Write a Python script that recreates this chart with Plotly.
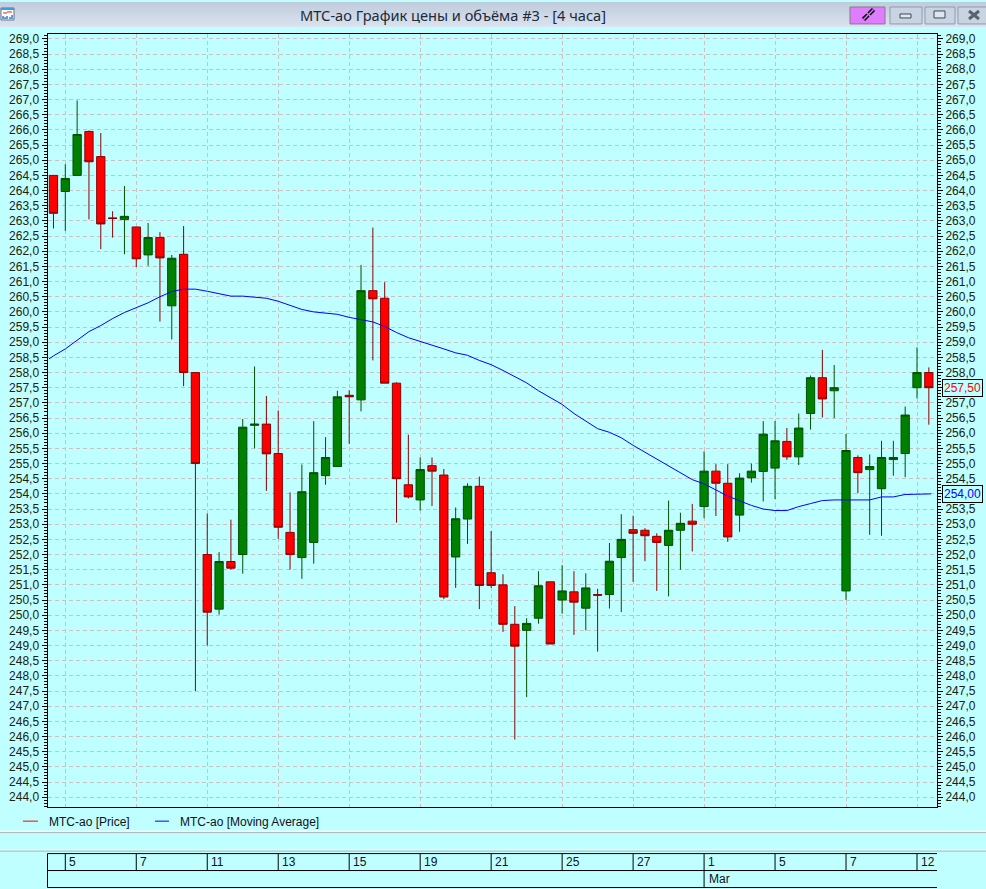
import plotly.graph_objects as go

W, H = 986, 889
BG = "#c0ffff"

bars = list(range(75))
opens = [264.5,263.97,264.5,265.95,265.12,263.1,263.05,262.8,261.88,262.45,260.2,261.9,258.0,252.0,250.2,251.77,252.0,256.26,256.3,255.33,252.73,251.9,252.4,254.6,254.9,257.25,257.1,260.7,260.45,257.65,254.3,253.8,254.93,254.62,251.92,253.17,254.25,251.4,251.0,249.7,249.5,249.9,251.1,250.5,250.77,250.23,250.68,250.68,251.9,252.82,252.8,252.6,252.3,252.8,253.1,253.58,254.75,254.35,253.3,254.53,254.74,254.85,255.73,255.22,256.65,257.83,257.4,250.8,255.2,254.8,254.17,255.13,255.33,257.5,258.0]
closes = [263.25,264.4,265.85,264.95,262.9,263.08,263.15,261.75,262.45,261.78,261.77,258.0,255.0,250.1,251.77,251.55,256.2,256.3,255.32,252.9,252.0,254.07,254.7,255.2,257.2,257.2,260.7,260.43,257.65,254.5,253.9,254.8,254.75,250.6,253.18,254.25,250.98,250.98,249.7,248.98,249.73,250.97,249.05,250.8,250.43,250.9,250.66,251.78,252.5,252.7,252.62,252.4,252.8,253.03,253.0,254.75,254.35,252.58,254.52,254.75,255.97,255.75,255.22,256.17,257.83,257.13,257.5,255.43,254.7,254.9,255.2,255.2,256.6,258.0,257.5]
highs = [264.5,264.87,266.97,265.98,265.9,263.32,264.15,262.8,262.93,262.63,261.88,262.83,258.0,253.35,252.08,253.15,256.47,258.2,257.23,256.75,254.05,254.97,256.4,255.87,257.4,257.42,261.55,262.78,260.98,257.68,255.95,255.2,255.2,254.82,253.55,254.35,254.57,252.78,251.35,250.3,249.9,251.45,251.1,251.65,251.45,251.38,250.87,252.38,253.33,253.28,252.87,252.7,253.78,253.38,253.67,255.4,254.98,254.98,254.68,255.0,256.4,256.4,256.17,256.65,257.9,258.75,258.25,255.98,255.27,255.3,255.75,255.75,256.88,258.83,258.17]
lows = [262.75,262.67,264.5,263.05,262.07,262.45,261.9,261.48,261.52,259.68,259.09,257.55,247.5,249.0,250.02,251.5,251.37,255.5,254.1,252.52,251.5,251.2,251.7,254.3,254.9,255.65,256.72,258.4,257.65,253.05,253.85,253.45,253.6,250.53,250.9,252.35,250.2,250.9,249.45,245.9,247.3,249.72,249.05,250.05,249.35,249.5,248.8,250.22,250.1,251.1,251.78,250.8,250.62,251.5,252.1,253.2,253.27,252.42,252.75,254.37,253.75,253.83,255.12,254.95,256.12,256.52,256.5,250.5,254.02,252.65,252.62,254.6,254.55,257.15,256.28]
average_x = [-0.38] + bars + [74.2]
moving_average = [258.45,258.55,258.78,259.05,259.35,259.55,259.78,259.98,260.14,260.3,260.5,260.67,260.75,260.75,260.68,260.6,260.52,260.52,260.48,260.45,260.35,260.22,260.08,260.0,259.95,259.92,259.82,259.75,259.67,259.52,259.32,259.15,259.03,258.92,258.78,258.65,258.57,258.4,258.26,258.07,257.87,257.66,257.4,257.18,256.95,256.65,256.4,256.15,256.03,255.85,255.6,255.37,255.15,254.93,254.68,254.47,254.33,254.12,253.93,253.77,253.62,253.5,253.45,253.45,253.58,253.68,253.78,253.8,253.8,253.8,253.8,253.9,253.9,253.98,254.0,254.0,254.0]
day_ticks = [1,7,13,19,25,31,37,43,49,55,61,67,73]
day_labels = ["5","7","11","13","15","19","21","25","27","1","5","7","12"]
month_tick = 55
month_label = "Mar"
last_price = 257.50
last_average = 254.00
y_ticks = [244 + 0.5 * i for i in range(51)]


def px(x):
    return x / W


def py(y):
    return 1 - y / H


shapes, annots = [], []


def rect(x0, y0, x1, y1, fill=None, line=None, lw=1):
    shapes.append(dict(type="rect", xref="paper", yref="paper", x0=px(x0), x1=px(x1), y0=py(y0), y1=py(y1),
                       fillcolor=fill or "rgba(0,0,0,0)", line=dict(color=line or "rgba(0,0,0,0)", width=lw if line else 0), layer="above"))


def seg(x0, y0, x1, y1, color="black", lw=1):
    shapes.append(dict(type="line", xref="paper", yref="paper", x0=px(x0), x1=px(x1), y0=py(y0), y1=py(y1),
                       line=dict(color=color, width=lw), layer="above"))


def text(x, y, s, size=12, color="#101020", anchor="left", font="Liberation Sans"):
    annots.append(dict(xref="paper", yref="paper", x=px(x), y=py(y), text=s, showarrow=False, xanchor=anchor, yanchor="middle",
                       font=dict(family=font, size=size, color=color)))


# window title bar gradient
for i in range(25):
    t = i / 24
    c = "rgb(%d,%d,%d)" % (192 + 26 * t, 203 + 25 * t, 220 + 20 * t)
    rect(0, i, W, i + 1, fill=c)
text(453, 13, "МТС-ао График цены и объёма #3 - [4 часа]", size=14.6, color="#1c2a3a", anchor="center", font="Noto Sans")

# window icon
rect(1, 6, 14, 18, fill="white", line="#707070")
rect(1, 6, 14, 8, fill="#3c9ee0")
seg(3, 11, 7, 11, "#e02020")
seg(7, 10, 12, 10, "#e02020")
for bx, bt in [(3, 14), (5, 15), (7, 14), (10, 15), (12, 13)]:
    seg(bx, 17, bx, bt, "#2a80d0", 1.5)

# window buttons
rect(850, 5, 885, 22, fill="#e07cff", line="#808080")
for a, b, c, d in [(863.5, 17.5, 868, 13), (869, 12, 873.5, 7.5)]:
    seg(a, b, c, d, "black", 4.5)
    seg(a, b, c, d, "#e07cff", 1.5)
for a, b in [(890, 922), (925, 955), (958, 990)]:
    rect(a, 5, b, 22, fill="#c8d4e2", line="#8f9bad")
rect(900, 12, 911, 16, fill="#dfe6ee", line="#404858")
rect(934, 9, 945, 16, fill="#dfe6ee", line="#404858")
seg(969, 9, 979, 17, "#5a6270", 3)
seg(979, 9, 969, 17, "#5a6270", 3)

# legend
seg(23, 821, 38, 821, "#ff0000", 1)
text(46.5, 821.5, "МТС-ао [Price]")
seg(155, 821, 169, 821, "#0000ff", 1)
text(177.5, 821.5, "МТС-ао [Moving Average]")

# separators
for yy in (832.5, 851):
    seg(0, yy, W, yy, "#b0b0b0", 1)
    seg(0, yy - 1.5, W, yy - 1.5, "white", 1)

# date table
seg(47.5, 853.5, 937, 853.5)
seg(47.5, 870.5, 937, 870.5)
seg(47.5, 887.5, 937, 887.5)
seg(47.5, 853.5, 47.5, 887.5)
for v, s in zip(day_ticks, day_labels):
    shapes.append(dict(type="line", xref="x", yref="paper", x0=v, x1=v, y0=py(853.5), y1=py(870.5),
                       line=dict(color="black", width=1), layer="above"))
    annots.append(dict(xref="x", yref="paper", x=v, y=py(862), xshift=2, text=s, showarrow=False, xanchor="left", yanchor="middle",
                       font=dict(family="Liberation Sans", size=12, color="#101020")))
shapes.append(dict(type="line", xref="x", yref="paper", x0=month_tick, x1=month_tick, y0=py(870.5), y1=py(887.5),
                   line=dict(color="black", width=1), layer="above"))
annots.append(dict(xref="x", yref="paper", x=month_tick, y=py(879), xshift=3, text=month_label, showarrow=False, xanchor="left",
                   yanchor="middle", font=dict(family="Liberation Sans", size=12, color="#101020")))

# last value tags
for val, col in [(last_price, "#ff0000"), (last_average, "#0000ff")]:
    annots.append(dict(xref="paper", yref="y", x=px(962), y=val, text=f"{val:.2f}".replace(".", ","), showarrow=False, xanchor="center",
                       yanchor="middle", bgcolor=BG, bordercolor="black", borderwidth=1, borderpad=1,
                       font=dict(family="Liberation Sans", size=12, color=col)))

fig = go.Figure()
fig.add_trace(go.Candlestick(
    x=bars, open=opens, high=highs, low=lows, close=closes, name="МТС-ао [Price]", showlegend=False, whiskerwidth=0,
    increasing=dict(line=dict(color="#005000", width=1), fillcolor="#008000"),
    decreasing=dict(line=dict(color="#8b0000", width=1), fillcolor="#ff0000"),
))
fig.add_trace(go.Scatter(x=average_x, y=moving_average, mode="lines", name="МТС-ао [Moving Average]", showlegend=False,
                         line=dict(color="#0000ff", width=1), yaxis="y2"))

grid = "rgb(206,192,194)"
yr = [243.66, 269.155]
tickfont = dict(family="Liberation Sans", size=12, color="#202010")
ycommon = dict(range=yr, tickmode="array", tickvals=y_ticks,
               ticks="outside", ticklen=5, tickcolor="black", tickwidth=1, showline=True, linecolor="black", linewidth=1,
               tickfont=tickfont, zeroline=False,
               minor=dict(dtick=0.1, ticks="outside", ticklen=3, tickcolor="black", tickwidth=1, showgrid=False))
left_labels = [f"{v:.1f}".replace(".", ",") for v in y_ticks]
right_labels = ["" if v in (last_price, last_average) else s for v, s in zip(y_ticks, left_labels)]
fig.update_layout(
    width=W, height=H, autosize=False, margin=dict(l=0, r=0, t=0, b=0, pad=0),
    paper_bgcolor=BG, plot_bgcolor=BG, separators=", ", showlegend=False, boxgap=0.0,
    xaxis=dict(domain=[px(47.5), px(937)], range=[-0.505, 74.69], tickmode="array", tickvals=day_ticks, showticklabels=False,
               ticks="", showgrid=True, gridcolor=grid, griddash="4px,3px", gridwidth=1, showline=True, mirror=True,
               linecolor="black", linewidth=1, rangeslider=dict(visible=False), zeroline=False, anchor="y"),
    yaxis=dict(domain=[py(807.3), py(32.3)], side="left", showgrid=True, gridcolor=grid, griddash="4px,3px", gridwidth=1,
               ticktext=left_labels, **ycommon),
    yaxis2=dict(domain=[py(807.3), py(32.3)], side="right", overlaying="y", anchor="x", showgrid=False, ticktext=right_labels, **ycommon),
    shapes=shapes, annotations=annots, hovermode=False,
)
fig.write_html("out.html", post_script="document.body.style.margin='0';document.body.style.overflow='hidden';",
               config=dict(displayModeBar=False))
